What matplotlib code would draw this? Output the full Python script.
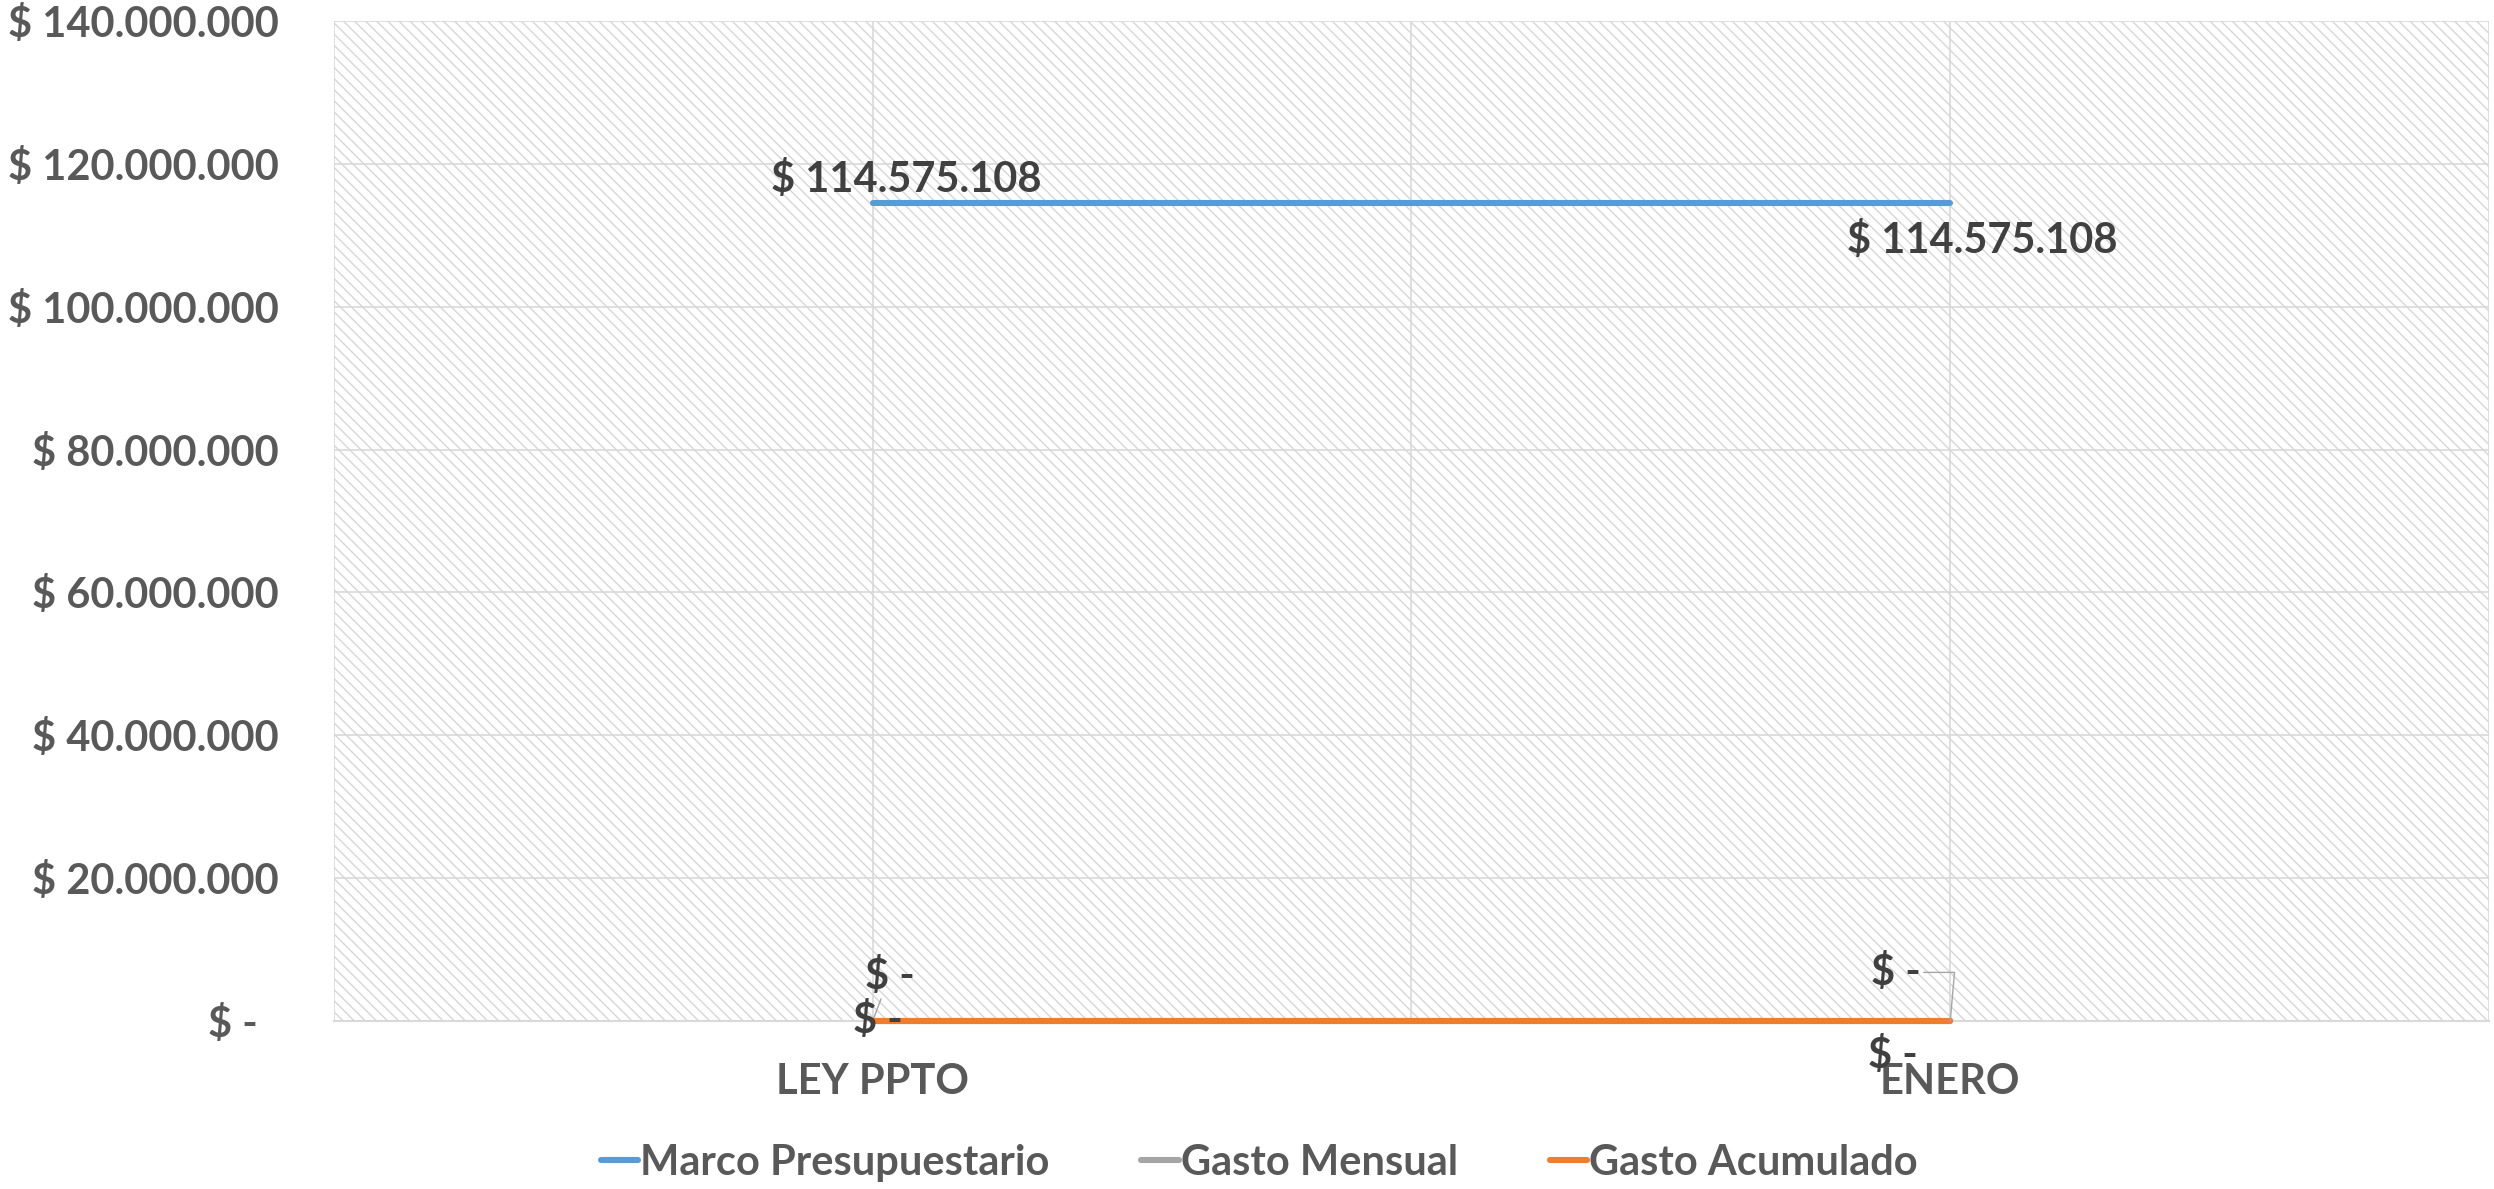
import matplotlib
matplotlib.use("Agg")
import matplotlib.pyplot as plt
from matplotlib.patches import Rectangle

categories = ["LEY PPTO", "ENERO"]
marco = [114575108, 114575108]
gasto_mensual = [0, 0]
gasto_acumulado = [0, 0]
y_ticks = [0, 20000000, 40000000, 60000000, 80000000, 100000000, 120000000, 140000000]


def money(v):
    if v == 0:
        return "$ -  "
    return "$ " + f"{v:,.0f}".replace(",", ".")


plt.rcParams["font.family"] = ["Lato", "DejaVu Sans"]
plt.rcParams["font.weight"] = "bold"
plt.rcParams["hatch.linewidth"] = 1.0

TICK = "#595959"
LABEL = "#404040"
GRID = "#D9D9D9"
LW = 4.4

fig = plt.figure(figsize=(24.94, 11.89), dpi=100)
ax = fig.add_axes([0.1339, 0.1413, 0.998 - 0.1339, 0.9823 - 0.1413])

x = list(range(len(categories)))

# hatched plot area
ax.add_patch(Rectangle((0, 0), 1, 1, transform=ax.transAxes, facecolor="white",
                       edgecolor="#D6D6D6", hatch="\\\\\\", linewidth=0, zorder=0.1))

ax.plot(x, marco, color="#5B9BD5", lw=LW, solid_capstyle="round", zorder=3, label="Marco Presupuestario")
ax.plot(x, gasto_mensual, color="#A5A5A5", lw=LW, solid_capstyle="round", zorder=3,
        clip_on=False, label="Gasto Mensual")
ax.plot(x, gasto_acumulado, color="#ED7D31", lw=LW, solid_capstyle="round", zorder=4,
        clip_on=False, label="Gasto Acumulado")

ax.set_xlim(-0.5, 1.5)
ax.set_ylim(0, 140000000)
ax.set_yticks(y_ticks, [money(v) for v in y_ticks])
ax.set_xticks(x, categories)
ax.set_xticks([-0.5, 0.5, 1.5], minor=True)
ax.tick_params(axis="y", length=0, pad=40, labelsize=30, labelcolor=TICK)
ax.tick_params(axis="x", which="both", length=0, pad=30, labelsize=30, labelcolor=TICK)
ax.grid(True, which="both", color=GRID, lw=1.2)
ax.set_axisbelow(True)
for side in ["top", "right", "left"]:
    ax.spines[side].set_visible(False)
ax.spines["bottom"].set_color(GRID)
ax.spines["bottom"].set_linewidth(1.5)

# data labels
lab = dict(textcoords="offset points", ha="center", va="center", fontsize=30, color=LABEL, zorder=6)
ax.annotate(money(marco[0]), (x[0], marco[0]), xytext=(24, 17), **lab)
ax.annotate(money(marco[1]), (x[1], marco[1]), xytext=(23, -27), **lab)
leader = dict(arrowstyle="-", color="#A5A5A5", lw=1, shrinkA=0, shrinkB=0)
ax.annotate("$ -", (x[0], gasto_mensual[0]), xytext=(12, 32), arrowprops=leader, **lab)
ax.annotate("$ -", (x[1], gasto_mensual[1]), xytext=(-39, 35),
            arrowprops=dict(leader, connectionstyle="angle,angleA=0,angleB=85,rad=0"), **lab)
ax.annotate("$ -", (x[0], gasto_acumulado[0]), xytext=(4, 0), **lab)
ax.annotate("$ -", (x[1], gasto_acumulado[1]), xytext=(-41, -25), **lab)

leg = fig.legend(loc="center", bbox_to_anchor=(0.505, 0.022), ncol=3, frameon=False,
                 fontsize=30, handlelength=0.9, handletextpad=0.05, columnspacing=2.2)
for t in leg.get_texts():
    t.set_color(TICK)
for h in leg.get_lines():
    h.set_linewidth(LW)

fig.savefig("out.png", dpi=100)
